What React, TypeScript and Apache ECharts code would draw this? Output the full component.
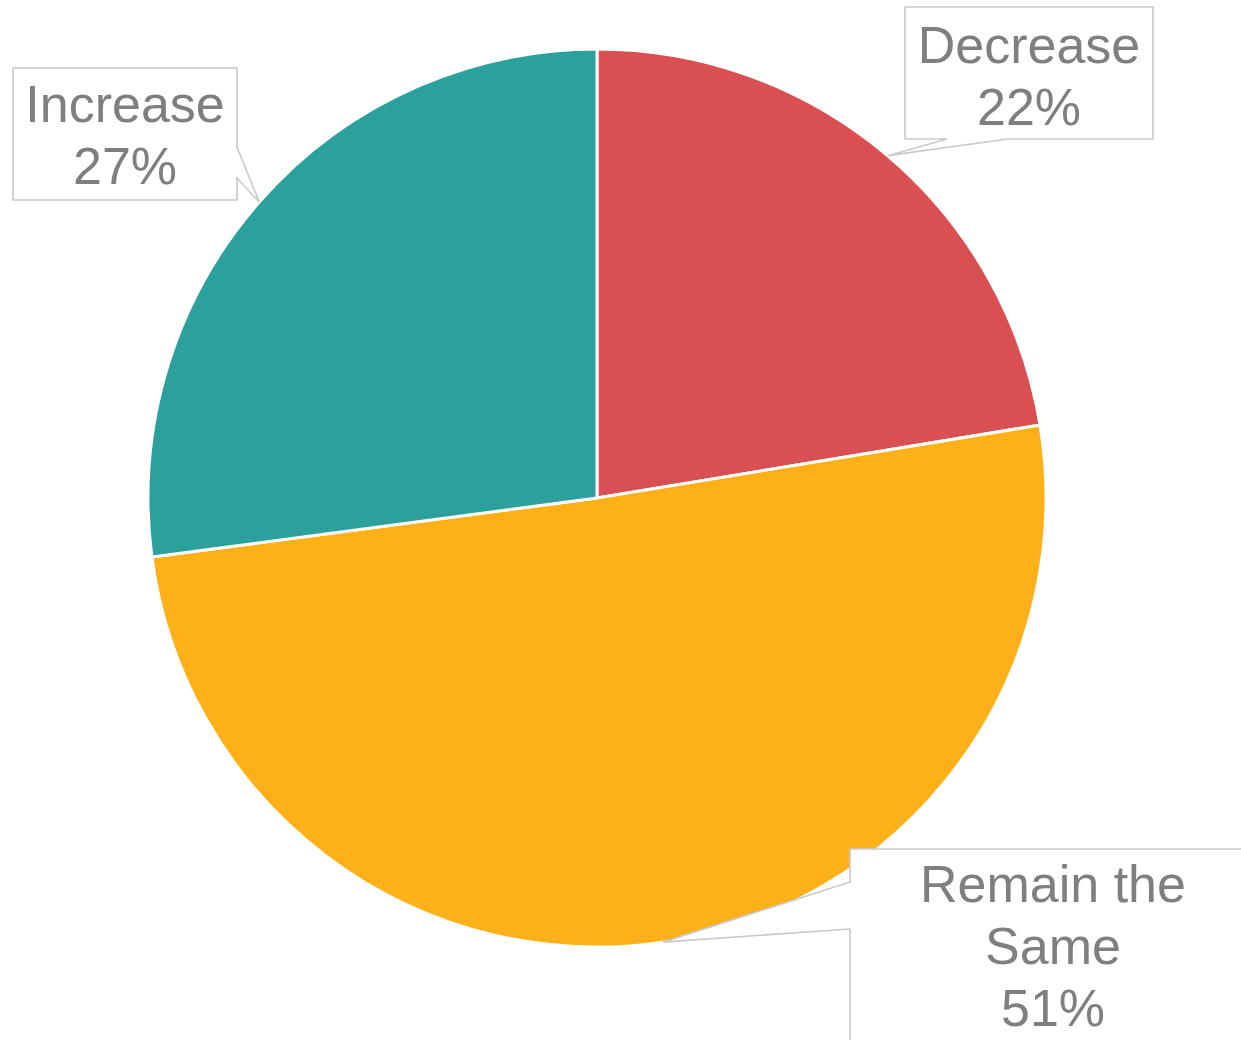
import React, { useEffect, useRef } from "react";
import * as echarts from "echarts";

const categories = ["Decrease", "Remain the Same", "Increase"];
const shares = [22.4, 50.5, 27.1];
const sliceColors = ["#DA4F52", "#FDB018", "#2CA09C"];

// Callout boxes, placed relative to the pie centre; the wedge side and the
// positions (along that side) where the pointer wedge leaves the box.
const callouts = [
  { left: 308, top: -491, w: 248, h: 132, side: "bottom", a: 42, b: 103, textDy: 3, wrap: 0 },
  { left: 253, top: 351, w: 406, h: 194, side: "left", a: 33, b: 80, textDy: 0, wrap: 380 },
  { left: -584, top: -430, w: 224, h: 132, side: "right", a: 79, b: 110, textDy: 1, wrap: 0 },
];

const CX = 597;
const CY = 498;
const R = 449;
const FONT_FAMILY = "'Liberation Sans', Arial, Helvetica, sans-serif";
const FONT_SIZE = 52;

function wrapWords(text: string, maxWidth: number): string {
  if (!maxWidth) return text;
  const canvas = document.createElement("canvas");
  const ctx = canvas.getContext("2d");
  if (!ctx) return text;
  ctx.font = FONT_SIZE + "px " + FONT_FAMILY;
  const words = text.split(" ");
  const lines: string[] = [];
  let cur = "";
  words.forEach((w) => {
    const trial = cur ? cur + " " + w : w;
    if (cur && ctx.measureText(trial).width > maxWidth) {
      lines.push(cur);
      cur = w;
    } else {
      cur = trial;
    }
  });
  if (cur) lines.push(cur);
  return lines.join("\n");
}

export default function App() {
  const ref = useRef<HTMLDivElement>(null);
  useEffect(() => {
    if (!ref.current) return;
    const chart = echarts.init(ref.current, null, { renderer: "svg" });
    chart.setOption({
      animation: false,
      backgroundColor: "#ffffff",
      series: [
        {
          type: "pie",
          center: [CX, CY],
          radius: R,
          startAngle: 90,
          clockwise: true,
          percentPrecision: 0,
          silent: true,
          emphasis: { scale: false },
          itemStyle: { borderColor: "#ffffff", borderWidth: 3 },
          label: { show: false },
          labelLine: { show: false },
          data: categories.map((name, i) => ({
            name,
            value: shares[i],
            itemStyle: { color: sliceColors[i] },
          })),
        },
      ],
    });

    const model: any = (chart as any).getModel ? (chart as any).getModel() : null;
    const series: any = model ? model.getSeriesByIndex(0) : null;
    const data: any = series ? series.getData() : null;
    const total = shares.reduce((s, v) => s + v, 0);

    const elements: any[] = [];
    categories.forEach((name, i) => {
      const c = callouts[i];
      const lay = data ? data.getItemLayout(i) : null;
      let cx = CX;
      let cy = CY;
      let r = R;
      let mid: number;
      if (lay && lay.startAngle != null) {
        cx = lay.cx;
        cy = lay.cy;
        r = lay.r;
        mid = (lay.startAngle + lay.endAngle) / 2;
      } else {
        let acc = 0;
        for (let k = 0; k < i; k++) acc += shares[k];
        mid = -Math.PI / 2 + ((acc + shares[i] / 2) / total) * Math.PI * 2;
      }
      const tip = [cx + r * Math.cos(mid), cy + r * Math.sin(mid)];
      let pct: any = null;
      if (series && series.getDataParams) pct = series.getDataParams(i).percent;
      if (pct == null) pct = Math.round((shares[i] / total) * 100);

      const L = cx + c.left;
      const T = cy + c.top;
      const Rr = L + c.w;
      const B = T + c.h;
      let pts: number[][];
      if (c.side === "bottom") {
        pts = [[L, T], [Rr, T], [Rr, B], [L + c.b, B], tip, [L + c.a, B], [L, B]];
      } else if (c.side === "right") {
        pts = [[L, T], [Rr, T], [Rr, T + c.a], tip, [Rr, T + c.b], [Rr, B], [L, B]];
      } else {
        pts = [[L, T], [Rr, T], [Rr, B], [L, B], [L, T + c.b], tip, [L, T + c.a]];
      }
      elements.push({
        type: "polygon",
        z: 10,
        silent: true,
        shape: { points: pts },
        style: { fill: "#ffffff", stroke: "#C9C9C9", lineWidth: 1.6, lineJoin: "miter" },
      });
      elements.push({
        type: "text",
        z: 11,
        silent: true,
        x: (L + Rr) / 2,
        y: (T + B) / 2 + c.textDy,
        style: {
          text: wrapWords(name, c.wrap) + "\n" + pct + "%",
          fontSize: FONT_SIZE,
          fontFamily: FONT_FAMILY,
          lineHeight: 62,
          fill: "#7F7F7F",
          align: "center",
          verticalAlign: "middle",
          textAlign: "center",
          textVerticalAlign: "middle",
        },
      });
    });

    chart.setOption({ graphic: { elements } });
    return () => chart.dispose();
  }, []);
  return (
    <div
      ref={ref}
      style={{ position: "absolute", left: 0, top: 0, width: 1241, height: 1040 }}
    />
  );
}
